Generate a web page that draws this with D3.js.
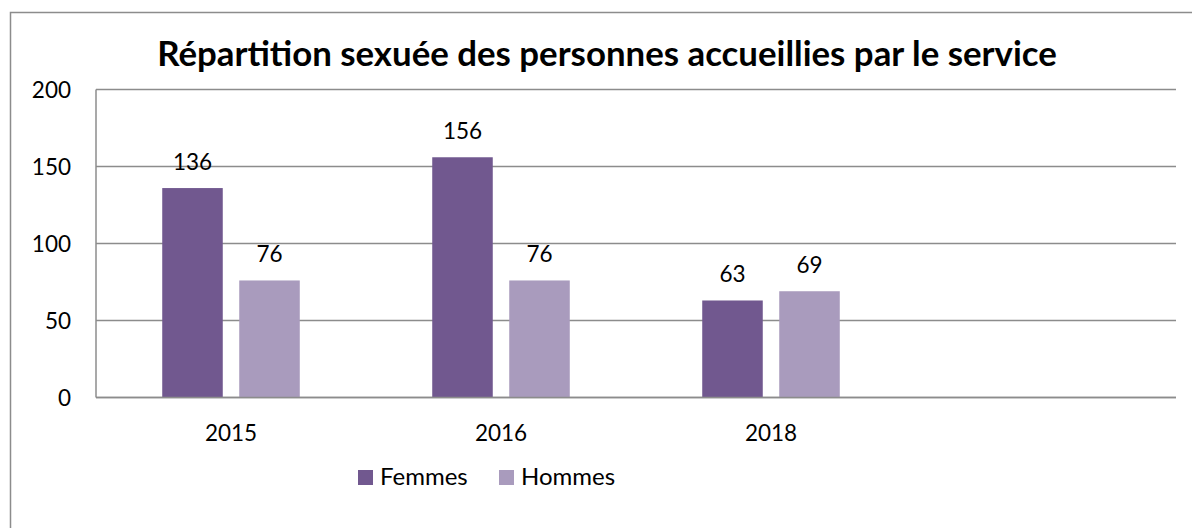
<!DOCTYPE html>
<html><head><meta charset="utf-8">
<script src="https://cdn.jsdelivr.net/npm/d3@7"></script>
<style>
body{margin:0;background:#fff;}
text{font-family:Lato,"Open Sans",sans-serif;fill:#000;}
</style></head>
<body>
<svg id="c" width="1192" height="528"></svg>
<script>
const categories = ["2015", "2016", "2018", ""];
const seriesNames = ["Femmes", "Hommes"];
const femmes = [136, 156, 63, null];
const hommes = [76, 76, 69, null];
const yTicks = [0, 50, 100, 150, 200];
const title = "Répartition sexuée des personnes accueillies par le service";

const colors = {Femmes: "#71588f", Hommes: "#a99bbd"};
const svg = d3.select("#c");
const W = 1192, H = 528;
svg.append("rect").attr("width", W).attr("height", H).attr("fill", "#fff");
svg.append("rect").attr("x", 10.5).attr("y", 12.5).attr("width", 1300).attr("height", 600)
  .attr("fill", "none").attr("stroke", "#8c8c8c").attr("stroke-width", 1.5);

const m = {left: 96, right: 1176, top: 89.5, bottom: 397.5};
const x = d3.scaleBand().domain(categories.map((c,i)=>i)).range([m.left, m.right]);
const y = d3.scaleLinear().domain([0, 200]).range([m.bottom, m.top]);
const inner = d3.scaleBand().domain(seriesNames).range([0, x.bandwidth()]).paddingInner(0.214).paddingOuter(0.86);

// gridlines
svg.append("g").selectAll("line").data(yTicks).join("line")
  .attr("x1", m.left).attr("x2", m.right)
  .attr("y1", d => y(d)).attr("y2", d => y(d))
  .attr("stroke", "#8c8c8c").attr("stroke-width", 1.5);
svg.append("line").attr("x1", m.left).attr("x2", m.left).attr("y1", m.top).attr("y2", m.bottom)
  .attr("stroke", "#8c8c8c").attr("stroke-width", 1.5);

// y tick labels
svg.append("g").selectAll("text").data(yTicks).join("text")
  .attr("x", 71).attr("y", d => y(d) + 8).attr("text-anchor", "end")
  .style("font-size", "22.5px").text(d => d);

// bars
const data = [];
categories.forEach((c, i) => {
  [["Femmes", femmes[i]], ["Hommes", hommes[i]]].forEach(([s, v]) => {
    if (v != null) data.push({i, s, v});
  });
});
svg.append("g").selectAll("rect").data(data).join("rect")
  .attr("x", d => x(d.i) + inner(d.s)).attr("width", inner.bandwidth())
  .attr("y", d => y(d.v)).attr("height", d => y(0) - y(d.v))
  .attr("fill", d => colors[d.s]);
// redraw baseline over bars
svg.append("line").attr("x1", m.left).attr("x2", m.right).attr("y1", y(0)).attr("y2", y(0))
  .attr("stroke", "#8c8c8c").attr("stroke-width", 1.5);

// data labels
svg.append("g").selectAll("text").data(data).join("text")
  .attr("x", d => x(d.i) + inner(d.s) + inner.bandwidth()/2)
  .attr("y", d => y(d.v) - 18).attr("text-anchor", "middle")
  .style("font-size", "22.5px").text(d => d.v);

// category labels
svg.append("g").selectAll("text").data(categories).join("text")
  .attr("x", (d,i) => x(i) + x.bandwidth()/2).attr("y", 441).attr("text-anchor", "middle")
  .style("font-size", "22.5px").text(d => d);

// legend
const legX = [358, 499];
const lg = svg.append("g").selectAll("g").data(seriesNames).join("g")
  .attr("transform", (d,i) => `translate(${legX[i]},470)`);
lg.append("rect").attr("width", 15).attr("height", 15).attr("fill", d => colors[d]);
lg.append("text").attr("x", 22).attr("y", 15).style("font-size", "24px").text(d => d);

// title
const t = svg.append("text").attr("x", 607).attr("y", 66).attr("text-anchor", "middle")
  .style("font-size", "28px").style("font-weight", "bold").text(title);
const w = t.node().getComputedTextLength();
t.style("font-size", (28 * 900 / w) + "px");
</script>
</body></html>
